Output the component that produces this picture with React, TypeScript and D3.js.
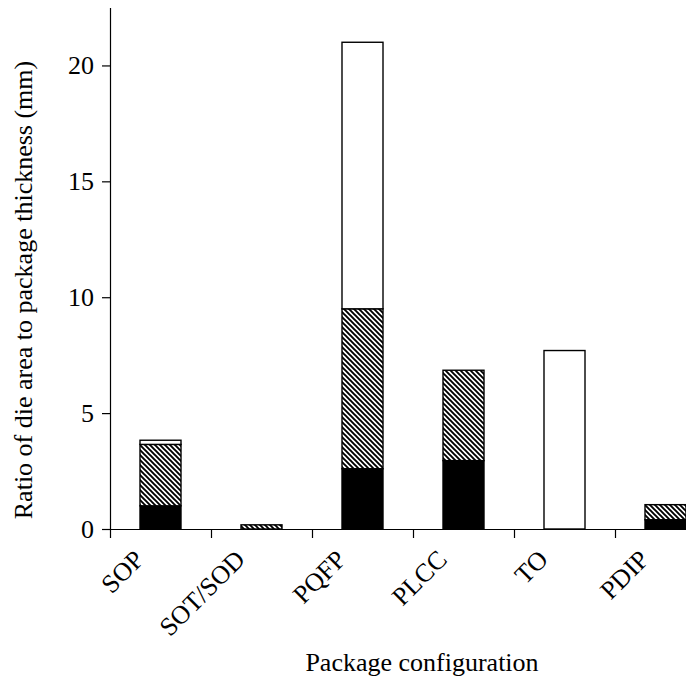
import * as React from 'react';
import * as d3 from 'd3';

const categories = ['SOP', 'SOT/SOD', 'PQFP', 'PLCC', 'TO', 'PDIP'];
const solidPart = [1.0, 0, 2.6, 2.95, 0, 0.4];
const hatchedPart = [2.65, 0.18, 6.9, 3.9, 0, 0.65];
const openPart = [0.18, 0, 11.5, 0, 7.7, 0];
const yTicks = [0, 5, 10, 15, 20];

const FONT = '"Liberation Serif", "Times New Roman", serif';

class StackedChart extends React.Component<{}> {

  // tslint:disable-next-line:no-any
  svgRef: React.RefObject<any>;

  constructor(props: {}) {
    super(props);
    this.svgRef = React.createRef();
  }

  componentDidMount() {
    const width = 686, height = 677;
    const left = 110, bottom = 529, top = 7.5, step = 101;

    const rows = categories.map((name, i) => ({
      name,
      solid: solidPart[i],
      hatched: hatchedPart[i],
      open: openPart[i],
    }));

    const svg = d3.select(this.svgRef.current)
      .attr('width', width)
      .attr('height', height);
    svg.selectAll('*').remove();

    // diagonal hatch going down to the right
    const defs = svg.append('defs');
    const pat = defs.append('pattern')
      .attr('id', 'hatch')
      .attr('patternUnits', 'userSpaceOnUse')
      .attr('width', 5)
      .attr('height', 5);
    pat.append('rect').attr('width', 5).attr('height', 5).attr('fill', '#fff');
    pat.append('path')
      .attr('d', 'M-1,-1 L6,6 M-1,4 L1,6 M4,-1 L6,1')
      .attr('stroke', '#000')
      .attr('stroke-width', 1.9);

    const x = d3.scaleBand()
      .domain(categories)
      .range([left, left + step * categories.length])
      .paddingInner(0.594)
      .paddingOuter(0.297);

    const y = d3.scaleLinear()
      .domain([0, 22.5])
      .range([bottom, top]);

    const stack = d3.stack<{ name: string, solid: number, hatched: number, open: number }>()
      .keys(['solid', 'hatched', 'open']);
    const series = stack(rows);
    const fills: { [k: string]: string } = { solid: '#000', hatched: 'url(#hatch)', open: '#fff' };

    series.forEach(s => {
      svg.append('g')
        .selectAll('rect')
        .data(s.filter(d => d[1] - d[0] > 0))
        .enter()
        .append('rect')
        .attr('x', d => x(d.data.name) || 0)
        .attr('width', x.bandwidth())
        .attr('y', d => y(d[1]))
        .attr('height', d => y(d[0]) - y(d[1]))
        .attr('fill', fills[s.key])
        .attr('stroke', '#000')
        .attr('stroke-width', 1.4);
    });

    // x axis, ticks sit on the category boundaries
    const xb = d3.scaleLinear()
      .domain([0, categories.length])
      .range([left, left + step * categories.length]);
    svg.append('g')
      .attr('transform', `translate(0, ${bottom})`)
      .call(d3.axisBottom(xb).tickValues(d3.range(categories.length + 1)).tickFormat(() => '').tickSize(9).tickSizeOuter(0))
      .call(g => g.selectAll('path,line').attr('stroke', '#000').attr('stroke-width', 1.2));

    svg.append('g')
      .selectAll('text')
      .data(categories)
      .enter()
      .append('text')
      .attr('transform', d => `translate(${(x(d) || 0) + x.bandwidth() / 2 - 15}, 561) rotate(-45)`)
      .attr('text-anchor', 'end')
      .attr('font-family', FONT)
      .attr('font-size', 26)
      .attr('fill', '#000')
      .text(d => d);

    // y axis
    svg.append('g')
      .attr('transform', `translate(${left}, 0)`)
      .call(d3.axisLeft(y).tickValues(yTicks).tickSize(8).tickSizeOuter(0).tickPadding(8))
      .call(g => g.selectAll('path,line').attr('stroke', '#000').attr('stroke-width', 1.2))
      .call(g => g.selectAll('text')
        .attr('font-family', FONT)
        .attr('font-size', 26)
        .attr('fill', '#000'));

    svg.append('text')
      .attr('transform', 'translate(32, 290) rotate(-90)')
      .attr('text-anchor', 'middle')
      .attr('font-family', FONT)
      .attr('font-size', 26)
      .attr('fill', '#000')
      .text('Ratio of die area to package thickness (mm)');

    svg.append('text')
      .attr('x', 422)
      .attr('y', 671)
      .attr('text-anchor', 'middle')
      .attr('font-family', FONT)
      .attr('font-size', 26)
      .attr('fill', '#000')
      .text('Package configuration');
  }

  render() {
    return (
      <svg ref={this.svgRef} style={{ position: 'absolute', left: 0, top: 0, background: '#fff' }} />
    );
  }
}

export default function App() {
  return <StackedChart />;
}
